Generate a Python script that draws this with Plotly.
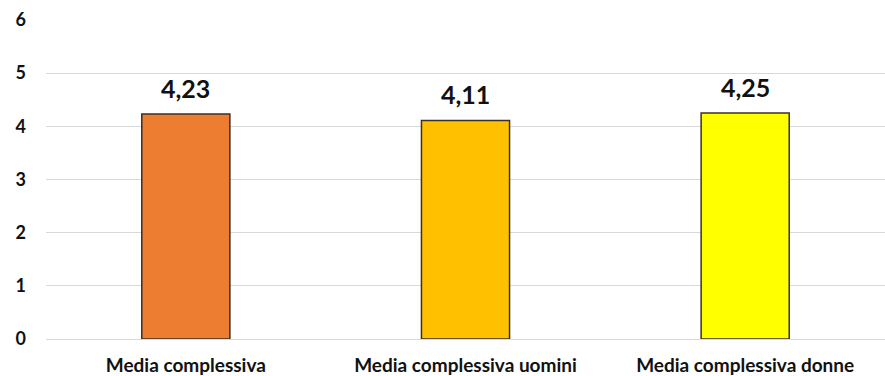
import plotly.graph_objects as go

categories = ["Media complessiva", "Media complessiva uomini", "Media complessiva donne"]
values = [4.23, 4.11, 4.25]
colors = ["#ED7D31", "#FFC000", "#FFFF00"]
y_ticks = [0, 1, 2, 3, 4, 5, 6]

fig = go.Figure(
    go.Bar(
        x=categories,
        y=values,
        width=0.315,
        marker=dict(color=colors, line=dict(color="#3b2f2a", width=1.5)),
        hoverinfo="x+y",
    )
)

# value labels above each bar, lifted a little off the bar top
for cat, val in zip(categories, values):
    fig.add_annotation(
        x=cat,
        y=val,
        text=f"{val:.2f}".replace(".", ","),
        showarrow=False,
        yanchor="bottom",
        yshift=9,
        font=dict(family="Lato", size=25, color="#111111", weight="bold"),
    )

fig.update_layout(
    width=885,
    height=376,
    margin=dict(l=46, r=0, t=20, b=37),
    paper_bgcolor="white",
    plot_bgcolor="white",
    separators=",.",
    showlegend=False,
    font=dict(family="Lato", color="#111111"),
)

fig.update_xaxes(
    showgrid=False,
    showline=False,
    ticks="",
    ticklabelstandoff=13,
    tickfont=dict(family="Lato", size=19, color="#111111", weight="bold"),
)
fig.update_yaxes(
    range=[0, 6],
    tickvals=y_ticks,
    showgrid=True,
    gridcolor="#d9d9d9",
    gridwidth=1,
    zeroline=True,
    zerolinecolor="#d9d9d9",
    zerolinewidth=1,
    showline=False,
    ticks="",
    ticklabelstandoff=19,
    tickfont=dict(family="Lato", size=18, color="#111111", weight="bold"),
)

fig.write_html("out.html")
